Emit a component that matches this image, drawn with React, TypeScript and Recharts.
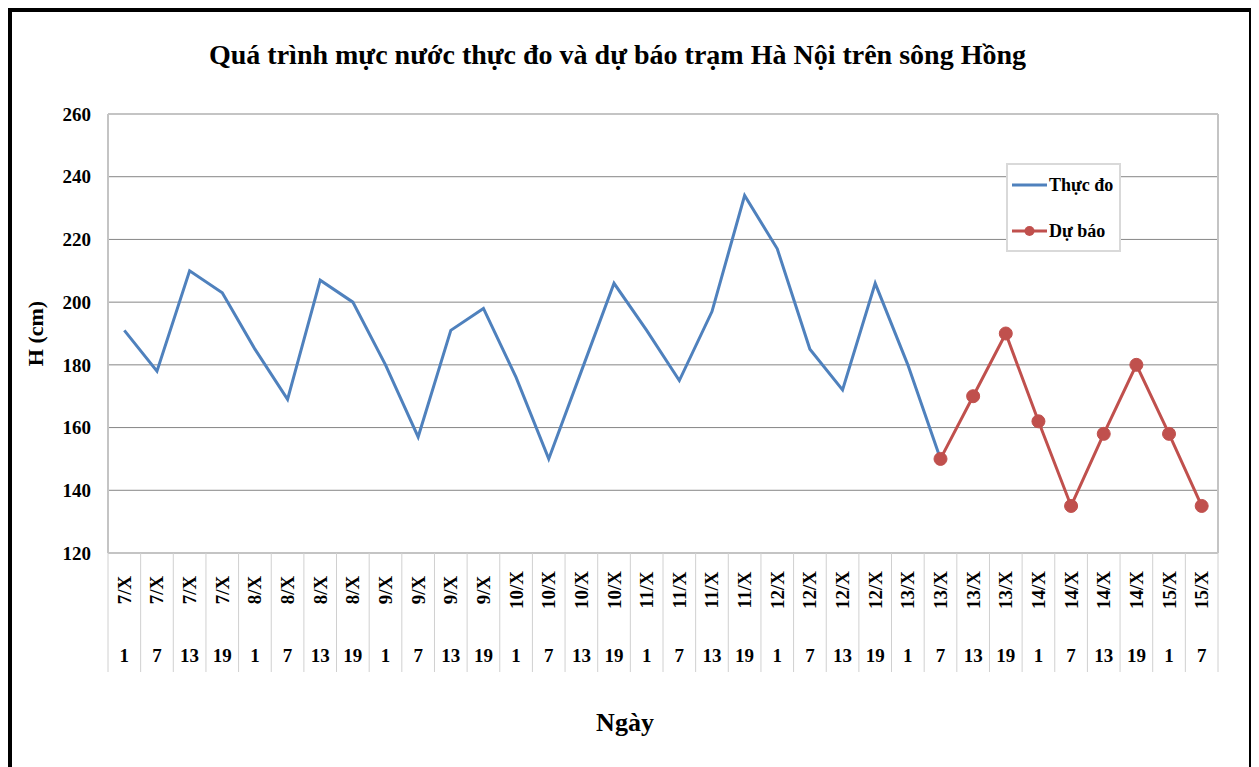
import React from 'react';
import { LineChart, Line, XAxis, YAxis, CartesianGrid, Legend, Label } from 'recharts';

const days = [
  '7/X', '7/X', '7/X', '7/X', '8/X', '8/X', '8/X', '8/X', '9/X', '9/X', '9/X', '9/X',
  '10/X', '10/X', '10/X', '10/X', '11/X', '11/X', '11/X', '11/X', '12/X', '12/X', '12/X', '12/X',
  '13/X', '13/X', '13/X', '13/X', '14/X', '14/X', '14/X', '14/X', '15/X', '15/X',
];
const hours = [
  '1', '7', '13', '19', '1', '7', '13', '19', '1', '7', '13', '19',
  '1', '7', '13', '19', '1', '7', '13', '19', '1', '7', '13', '19',
  '1', '7', '13', '19', '1', '7', '13', '19', '1', '7',
];
// thực đo, 7/X 1h -> 13/X 7h
const observed = [
  191, 178, 210, 203, 185, 169, 207, 200, 180, 157, 191, 198, 176,
  150, 178, 206, 191, 175, 197, 234, 217, 185, 172, 206, 180, 150,
];
// dự báo, 13/X 7h -> 15/X 7h
const forecast = [150, 170, 190, 162, 135, 158, 180, 158, 135];
const yTicks = [120, 140, 160, 180, 200, 220, 240, 260];
const seriesNames = ['Thực đo', 'Dự báo'];

const forecastStart = observed.length - 1;
const data = days.map((day, i) => ({
  i,
  day,
  hour: hours[i],
  obs: i < observed.length ? observed[i] : null,
  fc: i >= forecastStart ? forecast[i - forecastStart] : null,
}));

const W = 1237;
const H = 760;
const M = { top: 102, right: 31, bottom: 99, left: 0 };
const Y_W = 96;
const X_H = 120;
const PLOT_W = W - M.left - M.right - Y_W;
const HALF = PLOT_W / days.length / 2;

const FONT = '"Liberation Serif", "Times New Roman", serif';
const BLUE = '#4F81BD';
const RED = '#C0504D';

const CatTick = (props: any) => {
  const { x, y, index } = props;
  const last = index === days.length - 1;
  return (
    <g>
      <line x1={x - HALF} x2={x - HALF} y1={y} y2={y + 119} stroke="#d0d0d0" />
      {last && <line x1={x + HALF} x2={x + HALF} y1={y} y2={y + 119} stroke="#d0d0d0" />}
      <text
        x={x}
        y={y + 37}
        transform={`rotate(-90, ${x}, ${y + 37})`}
        textAnchor="middle"
        dominantBaseline="central"
        fontFamily={FONT}
        fontWeight="bold"
        fontSize={19}
        fill="#000"
      >
        {days[index]}
      </text>
      <text
        x={x}
        y={y + 102}
        textAnchor="middle"
        dominantBaseline="central"
        fontFamily={FONT}
        fontWeight="bold"
        fontSize={19}
        fill="#000"
      >
        {hours[index]}
      </text>
    </g>
  );
};

const renderLegend = (props: any) => {
  const payload = [...(props.payload || [])].sort(
    (a: any, b: any) => seriesNames.indexOf(a.value) - seriesNames.indexOf(b.value),
  );
  return (
    <svg width={115} height={89}>
      <rect x={1} y={1} width={113} height={87} fill="#fff" stroke="#d9d9d9" strokeWidth={2} />
      {payload.map((entry: any, k: number) => {
        const cy = 22 + k * 46;
        return (
          <g key={entry.value}>
            <line x1={6} x2={41} y1={cy} y2={cy} stroke={entry.color} strokeWidth={3} />
            {entry.type === 'circle' && <circle cx={23.5} cy={cy} r={5} fill={entry.color} />}
            <text x={43} y={cy} dominantBaseline="central" fontFamily={FONT} fontWeight="bold" fontSize={18} fill="#000">
              {entry.value}
            </text>
          </g>
        );
      })}
    </svg>
  );
};

export default function App() {
  return (
    <div style={{ position: 'relative', width: W, height: H, border: '4px solid #000', background: '#fff' }}>
      <div
        style={{
          position: 'absolute',
          left: 0,
          top: 27,
          width: 1211,
          textAlign: 'center',
          fontFamily: FONT,
          fontWeight: 'bold',
          fontSize: 28,
          lineHeight: '32px',
          color: '#000',
        }}
      >
        Quá trình mực nước thực đo và dự báo trạm Hà Nội trên sông Hồng
      </div>
      <LineChart width={W} height={H} data={data} margin={M}>
        <CartesianGrid vertical={false} stroke="#868686" />
        <CartesianGrid
          stroke="#c4c4c4"
          strokeWidth={2}
          horizontalCoordinatesGenerator={({ offset }: any) => [offset.top, offset.top + offset.height]}
          verticalCoordinatesGenerator={({ offset }: any) => [offset.left, offset.left + offset.width]}
        />
        <XAxis
          dataKey="i"
          type="category"
          height={X_H}
          padding={{ left: HALF, right: HALF }}
          axisLine={false}
          tickLine={false}
          tickSize={0}
          tickMargin={0}
          interval={0}
          tick={(p: any) => <CatTick {...p} />}
        >
          <Label
            content={() => (
              <text x={613} y={710} textAnchor="middle" dominantBaseline="central" fontFamily={FONT} fontWeight="bold" fontSize={26} fill="#000">
                Ngày
              </text>
            )}
          />
        </XAxis>
        <YAxis
          width={Y_W}
          domain={[120, 260]}
          ticks={yTicks}
          interval={0}
          axisLine={false}
          tickLine={false}
          tickSize={6}
          tickMargin={11}
          tick={{ fontFamily: FONT, fontWeight: 'bold', fontSize: 19, fill: '#000' }}
        >
          <Label
            content={({ viewBox }: any) => {
              const cx = viewBox.x + 23;
              const cy = viewBox.y + viewBox.height / 2;
              return (
                <text
                  x={cx}
                  y={cy}
                  transform={`rotate(-90, ${cx}, ${cy})`}
                  textAnchor="middle"
                  dominantBaseline="central"
                  fontFamily={FONT}
                  fontWeight="bold"
                  fontSize={22}
                  fill="#000"
                >
                  H (cm)
                </text>
              );
            }}
          />
        </YAxis>
        <Legend
          layout="horizontal"
          align="center"
          verticalAlign="middle"
          content={renderLegend}
          wrapperStyle={{ position: 'absolute', left: 994, top: 151, width: 115, height: 89 }}
        />
        <Line
          name="Thực đo"
          dataKey="obs"
          stroke={BLUE}
          strokeWidth={3}
          dot={false}
          legendType="line"
          connectNulls={false}
          isAnimationActive={false}
        />
        <Line
          name="Dự báo"
          dataKey="fc"
          stroke={RED}
          strokeWidth={3}
          dot={{ r: 6.5, fill: RED, stroke: RED, strokeWidth: 1 }}
          legendType="circle"
          isAnimationActive={false}
        />
      </LineChart>
    </div>
  );
}
